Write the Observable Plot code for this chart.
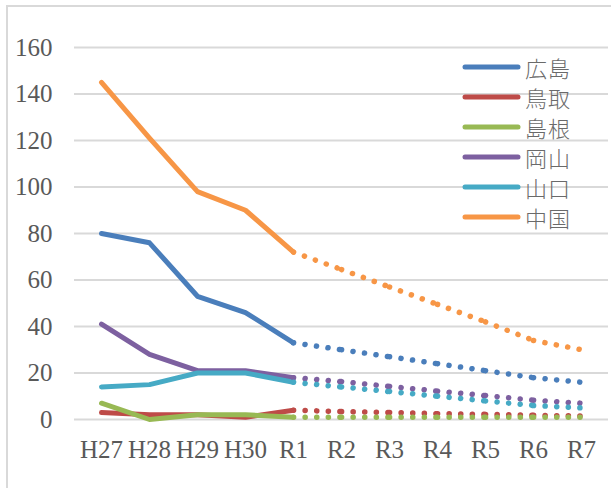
<!DOCTYPE html>
<html>
<head>
<meta charset="utf-8">
<script src="https://cdn.jsdelivr.net/npm/d3@7"></script>
<script src="https://cdn.jsdelivr.net/npm/@observablehq/plot@0.6"></script>
<style>
  html, body { margin: 0; padding: 0; background: #ffffff; }
  #wrap { position: relative; width: 611px; height: 488px; overflow: hidden; }
  #frame { position: absolute; left: 6px; top: 5px; width: 620px; height: 500px; border-left: 2px solid #d9d9d9; border-top: 2px solid #d9d9d9; box-sizing: border-box; pointer-events: none; }
  #chart { position: absolute; left: 0; top: 0; }
  #chart svg text { font-family: "Liberation Serif", "DejaVu Serif", serif !important; }
  #legend { position: absolute; left: 0; top: 0; width: 611px; height: 488px; pointer-events: none; }
  .item { position: absolute; left: 462px; height: 30px; display: flex; align-items: center; }
  .item svg { display: block; }
  .item span { font-family: "Noto Sans CJK JP", sans-serif; font-weight: 300; font-size: 22px; color: #6a6a6a; margin-left: 3px; line-height: 30px; letter-spacing: 1px; }
</style>
</head>
<body>
<div id="wrap">
  <div id="chart"></div>
  <div id="legend"></div>
  <div id="frame"></div>
</div>
<script>
const categories = ["H27", "H28", "H29", "H30", "R1", "R2", "R3", "R4", "R5", "R6", "R7"];
const seriesNames = ["広島", "鳥取", "島根", "岡山", "山口", "中国"];
const seriesColors = ["#4a7ebb", "#be4b48", "#98b954", "#7d60a0", "#46aac5", "#f79646"];
const yTicks = [0, 20, 40, 60, 80, 100, 120, 140, 160];
const lastActual = "R1";

const hiroshima = [80, 76, 53, 46, 33, 30, 27, 24, 21, 18, 16];
const tottori   = [3, 2, 2, 1, 4, 3.4, 3, 2.5, 2.2, 1.8, 1.5];
const shimane   = [7, 0, 2, 2, 1, 1, 1, 1, 1, 1, 1];
const okayama   = [41, 28, 21, 21, 18, 16.3, 14.2, 12.2, 10.3, 8.3, 7];
const yamaguchi = [14, 15, 20, 20, 16, 14, 12, 10, 8, 6, 5];
const chugoku   = [145, 121, 98, 90, 72, 64.5, 57, 49.5, 42, 34, 30];

const seriesValues = [hiroshima, tottori, shimane, okayama, yamaguchi, chugoku];
const splitIndex = categories.indexOf(lastActual);

// solid (actual) points
const solid = [];
seriesNames.forEach((s, si) => {
  seriesValues[si].forEach((v, i) => {
    if (i <= splitIndex) solid.push({series: s, cat: categories[i], value: v});
  });
});
// dotted (projection) segments, each restarting its dot pattern
const dotted = [];
seriesNames.forEach((s, si) => {
  const vals = seriesValues[si];
  for (let i = splitIndex; i < categories.length - 1; i++) {
    dotted.push({series: s, c1: categories[i], v1: vals[i], c2: categories[i + 1], v2: vals[i + 1]});
  }
});

const serif = "Liberation Serif";
const chart = Plot.plot({
  width: 611,
  height: 488,
  marginLeft: 74,
  marginRight: 3,
  marginTop: 47,
  marginBottom: 69,
  x: {type: "point", domain: categories, padding: 0.5, label: null},
  y: {domain: [0, 160], label: null},
  color: {domain: seriesNames, range: seriesColors},
  style: {fontFamily: serif, fontSize: "25px", color: "#595959", background: "transparent", overflow: "visible"},
  marks: [
    Plot.gridY(yTicks, {stroke: "#d9d9d9", strokeOpacity: 1, strokeWidth: 2}),
    Plot.axisY(yTicks, {tickSize: 0, tickPadding: 22, fill: "#595959", fontSize: 25, fontFamily: serif, label: null}),
    Plot.axisX({tickSize: 0, tickPadding: 21, fill: "#595959", fontSize: 25, fontFamily: serif, label: null}),
    Plot.line(solid, {x: "cat", y: "value", z: "series", stroke: "series", strokeWidth: 5, strokeLinecap: "round", strokeLinejoin: "round"}),
    Plot.link(dotted, {x1: "c1", y1: "v1", x2: "c2", y2: "v2", stroke: "series", strokeWidth: 5.5, strokeLinecap: "round", strokeDasharray: "0.1 11.5"})
  ]
});
document.getElementById("chart").appendChild(chart);

// legend
const legend = document.getElementById("legend");
seriesNames.forEach((s, i) => {
  const item = document.createElement("div");
  item.className = "item";
  item.style.top = (52 + i * 30) + "px";
  item.innerHTML = `<svg width="60" height="10"><line x1="3" y1="5" x2="56" y2="5" stroke="${seriesColors[i]}" stroke-width="5" stroke-linecap="round"/></svg><span>${s}</span>`;
  legend.appendChild(item);
});
</script>
</body>
</html>
